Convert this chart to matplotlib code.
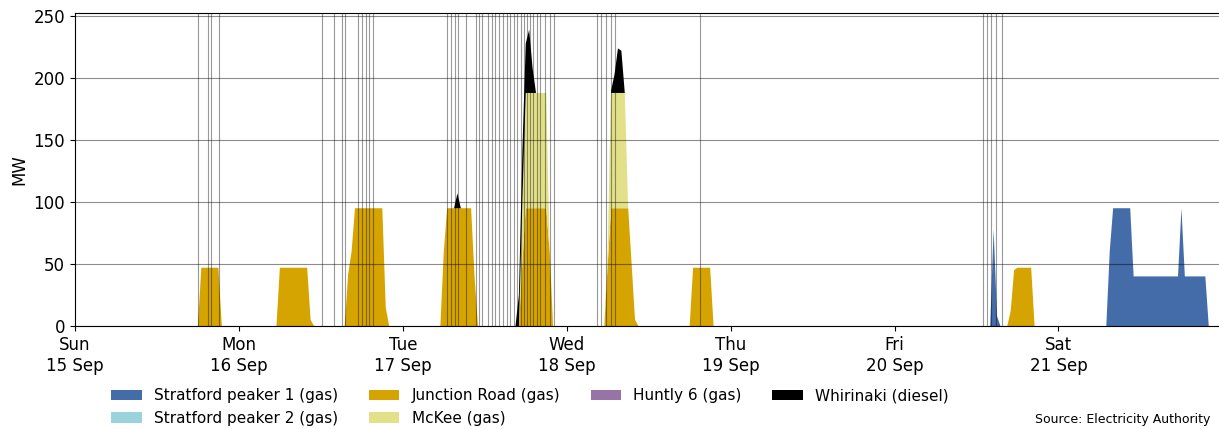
#Peaker generation over the week, stacked by station
import numpy as np
import pandas as pd
import matplotlib
matplotlib.use("Agg")
import matplotlib.pyplot as plt
import matplotlib.dates as mdates

# half-hourly trading periods
times = pd.date_range("2024-09-15 00:00", "2024-09-21 23:30", freq="30min")

# stations (bottom of stack first) and colours
stations = ["Stratford peaker 1 (gas)", "Stratford peaker 2 (gas)", "Junction Road (gas)",
            "McKee (gas)", "Huntly 6 (gas)", "Whirinaki (diesel)"]
colours = ["#436ca9", "#9bd3dd", "#d6a400", "#e3e08a", "#9874a6", "#000000"]

# runs of generation: (start of run, MW for each half hour from there)
stratford1_runs = [
    ("2024-09-20 14:00", [0, 78, 8, 0]),
    ("2024-09-21 07:00", [0, 60, 95, 95, 95, 95, 95, 95] + [40] * 14 + [95] + [40] * 7 + [0]),
]
stratford2_runs = []
junction_road_runs = [
    ("2024-09-15 18:00", [0, 47, 47, 47, 47, 47, 47, 0]),
    ("2024-09-16 05:30", [0, 47, 47, 47, 47, 47, 47, 47, 47, 47, 5, 0]),
    ("2024-09-16 15:30", [0, 42, 60, 95, 95, 95, 95, 95, 95, 95, 95, 95, 15, 0]),
    ("2024-09-17 05:30", [0, 60, 95, 95, 95, 95, 95, 95, 95, 95, 40, 0]),
    ("2024-09-17 17:00", [0, 50, 95, 95, 95, 95, 95, 95, 95, 60, 0]),
    ("2024-09-18 05:30", [0, 50, 95, 95, 95, 95, 95, 95, 50, 5, 0]),
    ("2024-09-18 18:00", [0, 47, 47, 47, 47, 47, 47, 0]),
    ("2024-09-20 16:30", [0, 12, 45, 47, 47, 47, 47, 47, 0]),
]
mckee_runs = [
    ("2024-09-17 17:00", [0, 50, 93, 93, 93, 93, 93, 93, 93, 0]),
    ("2024-09-18 05:30", [0, 10, 93, 93, 93, 93, 93, 0]),
]
huntly6_runs = []
whirinaki_runs = [
    ("2024-09-17 07:30", [0, 12, 0]),
    ("2024-09-17 16:30", [0, 25, 40, 40, 51, 20, 0]),
    ("2024-09-18 06:00", [0, 2, 15, 36, 34, 0]),
]

# extra vertical marker lines
marker_times = [
    "2024-09-15 18:00", "2024-09-15 19:30", "2024-09-15 19:55", "2024-09-15 21:05",
    "2024-09-16 12:10", "2024-09-16 13:55", "2024-09-16 15:05", "2024-09-16 15:30",
    "2024-09-16 17:25", "2024-09-16 18:00", "2024-09-16 18:35", "2024-09-16 19:00", "2024-09-16 19:35",
    "2024-09-17 06:25", "2024-09-17 07:00", "2024-09-17 07:35", "2024-09-17 08:05", "2024-09-17 09:15",
    "2024-09-17 10:40", "2024-09-17 11:05", "2024-09-17 11:35", "2024-09-17 12:25", "2024-09-17 13:00",
    "2024-09-17 13:30", "2024-09-17 14:05", "2024-09-17 14:40", "2024-09-17 15:15", "2024-09-17 15:40",
    "2024-09-17 16:15", "2024-09-17 16:40", "2024-09-17 17:15", "2024-09-17 17:45", "2024-09-17 18:10",
    "2024-09-17 18:35", "2024-09-17 19:00", "2024-09-17 19:35", "2024-09-17 20:05", "2024-09-17 20:45",
    "2024-09-17 21:30", "2024-09-17 22:05",
    "2024-09-18 04:30", "2024-09-18 05:00", "2024-09-18 05:45", "2024-09-18 06:25", "2024-09-18 07:00",
    "2024-09-18 19:30",
    "2024-09-20 13:00", "2024-09-20 13:30", "2024-09-20 14:05", "2024-09-20 14:55", "2024-09-20 15:40",
]


def build(runs):
    s = pd.Series(0.0, index=times)
    for start, vals in runs:
        idx = pd.date_range(start, periods=len(vals), freq="30min")
        s.loc[idx] = vals
    return s.values


series = [build(r) for r in [stratford1_runs, stratford2_runs, junction_road_runs,
                              mckee_runs, huntly6_runs, whirinaki_runs]]

fig = plt.figure(figsize=(12.19, 4.29), dpi=100)
ax = fig.add_axes([0.0615, 0.2401, 0.9385, 0.7296])

ax.stackplot(times, *series, colors=colours, labels=stations)

for t in marker_times:
    ax.axvline(pd.Timestamp(t), color="black", alpha=0.4, lw=0.8, zorder=3)

ax.yaxis.grid(True, color="black", alpha=0.45, lw=0.8)
ax.set_ylim(0, 252.5)
ax.set_xlim(times[0], times[-1])
ax.set_ylabel("MW", fontsize=12)

ax.xaxis.set_major_locator(mdates.DayLocator())
ax.xaxis.set_major_formatter(mdates.DateFormatter("%a\n%d %b"))
ax.tick_params(axis="both", labelsize=12)

for side in ["right"]:
    ax.spines[side].set_visible(False)

fig.legend(loc="upper left", bbox_to_anchor=(0.080, 0.127), ncol=4, frameon=False, fontsize=11)
fig.text(0.993, 0.023, "Source: Electricity Authority", ha="right", va="center", fontsize=9)

fig.savefig("out.png", dpi=100)
